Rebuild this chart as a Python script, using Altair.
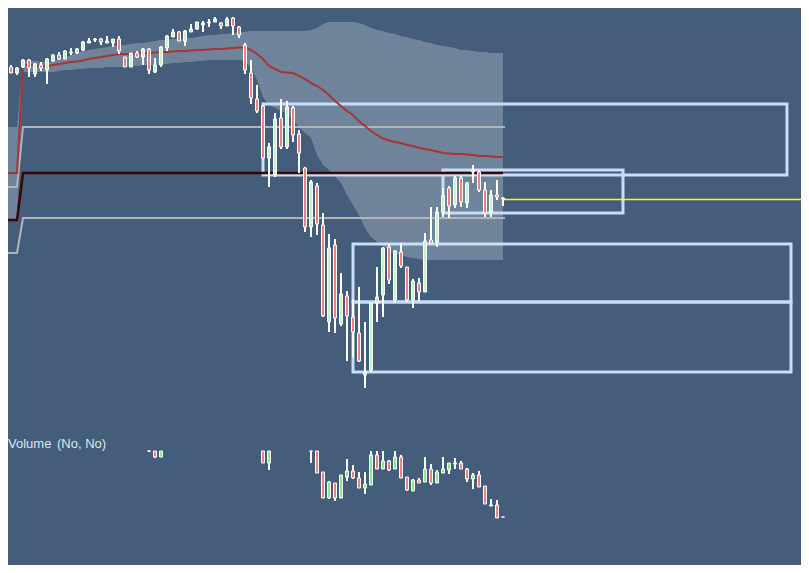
import altair as alt
import pandas as pd

# ---------------- data (price units; volume units separate) ----------------
idx = list(range(-1, 84))

opens = [530, 533, 533, 527, 533, 540, 526, 535, 530, 539,
         545, 541, 547, 547, 550, 557, 560, 561, 557, 557,
         561, 543, 533, 547, 543, 551, 528, 535, 552, 563,
         568, 559, 568, 571, 575, 577, 578, 577, 574, 582,
         573, 555, 527, 501, 494, 442, 425, 482, 453, 492,
         466, 432, 373, 414, 375, 278, 355, 276, 304, 283,
         267, 225, 230, 297, 305, 353, 300, 348, 333, 300,
         317, 308, 360, 358, 388, 412, 395, 422, 397, 428,
         428, 410, 388, 405, 401]
highs = [534, 538, 535, 533, 541, 541, 537, 538, 542, 546,
         548, 550, 552, 552, 559, 562, 562, 562, 564, 561,
         564, 543, 547, 549, 552, 552, 542, 554, 565, 571,
         569, 570, 576, 578, 579, 581, 583, 578, 583, 583,
         574, 557, 540, 515, 495, 457, 487, 501, 499, 494,
         470, 433, 420, 417, 387, 366, 361, 327, 309, 301,
         313, 278, 297, 333, 353, 356, 350, 357, 333, 321,
         322, 367, 393, 393, 412, 414, 424, 424, 418, 435,
         430, 418, 410, 420, 403]
lows = [529, 531, 527, 525, 532, 523, 523, 529, 516, 538,
        540, 541, 545, 546, 549, 557, 558, 555, 557, 553,
        546, 533, 533, 542, 535, 526, 527, 533, 549, 563,
        559, 554, 568, 570, 568, 573, 578, 571, 574, 565,
        562, 526, 496, 487, 440, 413, 423, 451, 451, 458,
        427, 368, 363, 365, 283, 268, 267, 274, 239, 243,
        238, 212, 228, 278, 283, 316, 297, 332, 298, 292,
        299, 308, 357, 353, 383, 382, 392, 393, 392, 417,
        408, 383, 383, 400, 394]
closes = [533, 534, 527, 532, 540, 532, 536, 532, 541, 545,
          541, 549, 548, 551, 558, 559, 561, 558, 559, 561,
          549, 533, 547, 543, 551, 530, 535, 553, 564, 568,
          559, 569, 571, 578, 577, 578, 581, 574, 581, 574,
          565, 530, 502, 489, 442, 453, 481, 453, 493, 465,
          447, 373, 418, 376, 284, 352, 282, 306, 284, 268,
          239, 228, 297, 303, 352, 320, 349, 334, 300, 319,
          308, 359, 357, 388, 404, 394, 422, 398, 417, 430,
          410, 387, 405, 403, 402]
ma = [427, 427, 427, 427, 535, 535, 534.5, 534, 534, 535,
      536, 537, 538, 538.5, 539.5, 541, 542, 543, 544, 545,
      546, 546, 546.5, 546.5, 547, 547, 547.5, 548, 548, 548.5,
      549, 549, 549.5, 550, 550, 550.5, 551, 551, 551.5, 552,
      552.5, 552.5, 550, 546, 541, 534, 531, 528, 527.5, 527,
      524, 521, 517, 514, 510, 505, 499, 494, 489, 485,
      479, 474, 469, 465, 461.5, 459.5, 458, 457, 455, 454,
      452, 451, 450, 448.5, 447, 446.5, 446, 446, 445.5, 445,
      444, 444, 443.5, 443, 443]
band_up = [473, 473, 473, 473, 539, 539, 539, 538, 538, 539,
           541, 543, 545, 547, 549, 550, 551, 552, 553, 554,
           555, 555, 556, 557, 557, 558, 559, 560, 560, 561,
           561, 562, 562, 563, 564, 565, 565, 566, 566, 567,
           568, 568, 569, 569, 569, 569, 569, 569, 569, 569,
           569, 569, 570, 572, 576, 578, 578, 578, 578, 578,
           577, 575, 572, 570, 569, 567, 566, 564, 563, 561,
           560, 558, 557, 555, 554, 553, 552, 550, 550, 549,
           548, 548, 547, 547, 547]
band_lo = [380, 380, 380, 380, 528, 528, 528, 528, 528, 528,
           529, 530, 530, 531, 531, 532, 532, 532, 533, 533,
           533, 533, 534, 534, 535, 535, 535, 536, 536, 537,
           537, 538, 538, 539, 539, 540, 540, 540, 540, 540,
           540, 539, 532, 520, 503, 495, 492, 489, 486, 480,
           473, 467, 462, 445, 435, 430, 424, 417, 405, 395,
           385, 372, 363, 358, 354, 350, 347, 345, 343, 342,
           341, 340, 340, 340, 340, 340, 340, 340, 340, 340,
           340, 340, 340, 340, 340]

# level lines
lvl_x = [-1, 2, 3, 83.33]
gray_hi = [413, 413, 473, 473]
gray_lo = [347, 347, 382, 382]
dark_x = [-1, 2, 3, 83]
dark_lvl = [380, 380, 427, 427]

# zone rectangles
rect_x1 = [43, 73, 58, 58]
rect_x2 = [130.33, 103, 131, 131]
rect_top = [496, 430, 356, 298]
rect_bot = [425, 387, 298, 228]

# yellow last-price line
last_x1 = [83]
last_x2 = [134]
last_y = [400.5]

# volume candles (volume units)
vol_i = [24, 25, 26, 43, 44, 51, 52, 53, 54, 55, 56, 57, 58, 59, 60, 61, 62,
         63, 64, 65, 66, 67, 68, 69, 70, 71, 72, 73, 74, 75, 76, 77, 78, 79,
         80, 81, 82, 83]
vol_o = [140, 130, 116, 130, 110, 140, 130, 101, 75, 90, 75, 96, 102, 95, 85,
         88, 118, 104, 112, 104, 116, 96, 82, 93, 91, 104, 90, 100, 103, 109,
         110, 104, 94, 98, 87, 67, 68, 56]
vol_h = [145, 135, 135, 135, 135, 145, 135, 101, 92, 90, 98, 114, 108, 101,
         101, 125, 125, 125, 113, 125, 118, 96, 94, 95, 116, 109, 103, 116,
         110, 115, 112, 105, 100, 102, 87, 74, 73, 56]
vol_l = [121, 115, 116, 110, 103, 110, 100, 75, 74, 72, 75, 92, 94, 85, 79,
         88, 104, 104, 102, 104, 95, 82, 82, 90, 91, 88, 90, 100, 99, 104,
         104, 91, 84, 86, 69, 67, 55, 56]
vol_c = [135, 116, 130, 110, 130, 130, 100, 75, 91, 75, 98, 102, 95, 85, 89,
         118, 104, 112, 103, 116, 95, 83, 93, 90, 104, 90, 101, 104, 110, 110,
         104, 94, 98, 86, 69, 68, 55, 56]
VOL_TOP = 122

# ---------------- styles ----------------
BG = "#435d7b"
BAND = "#6f849b"
RED = "#f08080"
GREEN = "#c9f3c9"
VGREEN = "#86ee86"
MA_COL = "#a83434"
GRAY = "#b4b4b4"
DARK = "#3c0404"
RECT = "#c8ddf7"

main = pd.DataFrame({"i": idx, "o": opens, "h": highs, "l": lows, "c": closes,
                     "ma": ma, "up": band_up, "lo": band_lo})
lv_hi = pd.DataFrame({"i": lvl_x, "v": gray_hi})
lv_lo = pd.DataFrame({"i": lvl_x, "v": gray_lo})
lv_dk = pd.DataFrame({"i": dark_x, "v": dark_lvl})
rects = pd.DataFrame({"x1": rect_x1, "x2": rect_x2, "t": rect_top, "b": rect_bot})
last = pd.DataFrame({"x1": last_x1, "x2": last_x2, "y": last_y})
vol = pd.DataFrame({"i": vol_i, "o": vol_o, "h": vol_h, "l": vol_l, "c": vol_c})

W, H = 793, 557
xs = alt.Scale(domain=[0.5, 0.5 + W / 6], nice=False, zero=False)
ps = alt.Scale(domain=[592 - H, 592], nice=False, zero=False)
vs = alt.Scale(domain=[565 - H, 565], nice=False, zero=False)


def X(f):
    return alt.X(f"{f}:Q", scale=xs, axis=None)


def YP(f):
    return alt.Y(f"{f}:Q", scale=ps, axis=None)


def YV(f):
    return alt.Y(f"{f}:Q", scale=vs, axis=None)


band = alt.Chart(main).mark_area(color=BAND, clip=True).encode(
    x=X("i"), y=YP("lo"), y2="up")


def level(df, col, w):
    return alt.Chart(df).mark_line(color=col, strokeWidth=w, clip=True).encode(
        x=X("i"), y=YP("v"))


l_hi = level(lv_hi, GRAY, 2)
l_lo = level(lv_lo, GRAY, 2)
l_dk = level(lv_dk, DARK, 2.5)

ma_line = alt.Chart(main).mark_line(color=MA_COL, strokeWidth=2, clip=True).encode(
    x=X("i"), y=YP("ma"))

zones = alt.Chart(rects).mark_rect(fillOpacity=0, stroke=RECT, strokeWidth=3,
                                   clip=True).encode(
    x=X("x1"), x2="x2", y=YP("t"), y2="b")

last_line = alt.Chart(last).mark_rule(color="#ffff00", strokeWidth=1.5, clip=True).encode(
    x=X("x1"), x2="x2", y=YP("y"))

wicks = alt.Chart(main).mark_rule(color="white", strokeWidth=2, clip=True).encode(
    x=X("i"), y=YP("l"), y2="h")

bodies = alt.Chart(main).transform_calculate(
    xa="datum.i - 0.25", xb="datum.i + 0.25"
).mark_rect(stroke="white", strokeWidth=1, clip=True).encode(
    x=X("xa"), x2="xb", y=YP("o"), y2="c",
    color=alt.condition("datum.c < datum.o", alt.value(RED), alt.value(GREEN)))

vclip = dict(vo=f"min(datum.o, {VOL_TOP})", vc=f"min(datum.c, {VOL_TOP})",
             vh=f"min(datum.h, {VOL_TOP})", vl=f"min(datum.l, {VOL_TOP})",
             xa="datum.i - 0.25", xb="datum.i + 0.25")

vwicks = alt.Chart(vol).transform_calculate(**vclip).mark_rule(
    color="white", strokeWidth=2, clip=True).encode(
    x=X("i"), y=YV("vl"), y2="vh")

vbodies = alt.Chart(vol).transform_calculate(**vclip).mark_rect(
    stroke="white", strokeWidth=1, clip=True).encode(
    x=X("xa"), x2="xb", y=YV("vo"), y2="vc",
    color=alt.condition("datum.c < datum.o", alt.value(RED), alt.value(VGREEN)))

t1 = alt.Chart(pd.DataFrame({"t": ["Volume"]})).mark_text(
    align="left", baseline="alphabetic", font="Liberation Sans", fontSize=13,
    color="#dde7f2").encode(x=alt.value(0), y=alt.value(440), text="t:N")
t2 = alt.Chart(pd.DataFrame({"t": ["(No, No)"]})).mark_text(
    align="left", baseline="alphabetic", font="Liberation Sans", fontSize=13,
    color="#dde7f2").encode(x=alt.value(49), y=alt.value(440), text="t:N")

chart = alt.layer(
    band, l_hi, l_lo, zones, l_dk, ma_line, last_line,
    wicks, bodies, vwicks, vbodies, t1, t2
).resolve_scale(y="independent").properties(
    width=W, height=H, padding=0, background=BG,
    autosize=alt.AutoSizeParams(type="none")
).configure_view(strokeWidth=0)

chart.save("out.html", embed_options={"renderer": "svg", "actions": False})
